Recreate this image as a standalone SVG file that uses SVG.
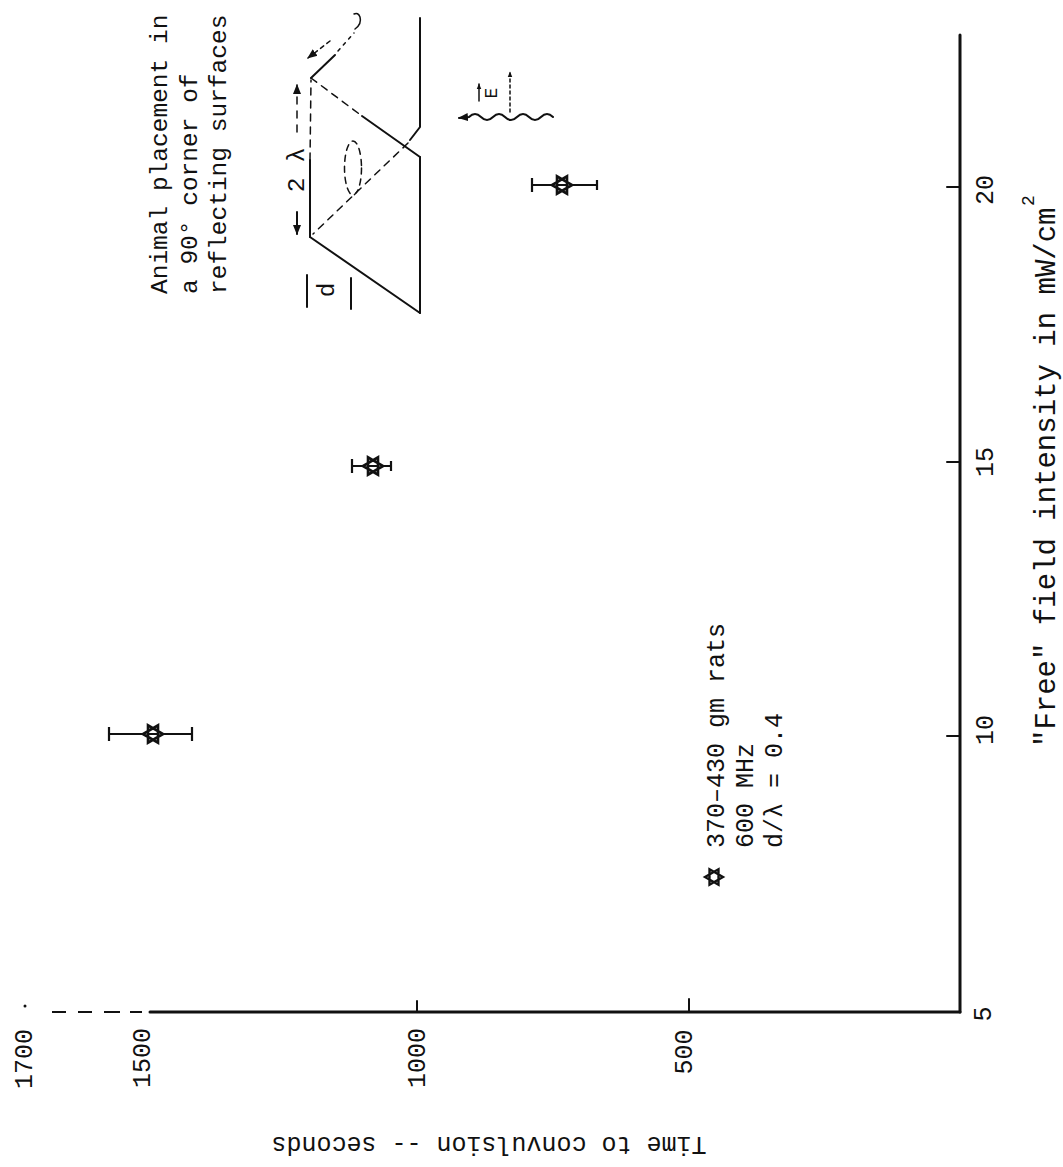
<svg xmlns="http://www.w3.org/2000/svg" width="1063" height="1167" viewBox="0 0 1063 1167">
<defs>
<style>
text { font-family: "Liberation Mono", "Courier New", monospace; fill: #111; }
.f25 { font-size: 25px; }
.f24 { font-size: 24.5px; }
.f29 { font-size: 29px; }
.ax { stroke: #111; stroke-width: 3; fill: none; stroke-linecap: round; }
.axd { stroke: #111; stroke-width: 1.8; fill: none; }
.ln { stroke: #111; stroke-width: 2; fill: none; stroke-linecap: round; }
.thin { stroke: #111; stroke-width: 1.5; fill: none; stroke-linecap: round; }
.dash { stroke-dasharray: 7 6; }
.eb { stroke: #111; stroke-width: 2.2; fill: none; }
.star { stroke: #111; stroke-width: 2.6; fill: #fff; stroke-linejoin: miter; }
</style>
<marker id="ah" viewBox="0 0 10 10" refX="9" refY="5" markerWidth="10" markerHeight="10" markerUnits="userSpaceOnUse" orient="auto"><path d="M0,1 L10,5 L0,9 z" fill="#111"/></marker>
<marker id="ahs" viewBox="0 0 10 10" refX="9" refY="5" markerWidth="6" markerHeight="6" markerUnits="userSpaceOnUse" orient="auto"><path d="M0,1 L10,5 L0,9 z" fill="#111"/></marker>
<path id="star" class="star" d="M10,0 L-5,8.66 L-5,-8.66 Z M-10,0 L5,8.66 L5,-8.66 Z"/>
</defs>
<rect width="1063" height="1167" fill="#fff"/>

<g id="axes">
  <line class="ax" x1="960" y1="35" x2="960" y2="1012"/>
  <line class="ax" x1="960" y1="1012" x2="150" y2="1012"/>
  <path class="axd" d="M142,1012 H130 M120,1012 H104 M92,1012 H78 M66,1012 H52"/>
  <circle cx="25" cy="1006" r="1.5" fill="#111"/>
  <line class="ln" x1="960" y1="187" x2="947" y2="187"/>
  <line class="ln" x1="960" y1="462" x2="947" y2="462"/>
  <line class="ln" x1="960" y1="736" x2="947" y2="736"/>
  <line class="ln" x1="417" y1="1012" x2="417" y2="1001"/>
  <line class="ln" x1="689" y1="1012" x2="689" y2="999"/>
</g>

<g id="tick-labels" class="f25">
  <text transform="translate(993,190) rotate(-90)" text-anchor="middle">20</text>
  <text transform="translate(993,462) rotate(-90)" text-anchor="middle">15</text>
  <text transform="translate(993,730) rotate(-90)" text-anchor="middle">10</text>
  <text transform="translate(991,1014) rotate(-90)" text-anchor="middle">5</text>
  <text transform="translate(32,1059) rotate(-90)" text-anchor="middle">1700</text>
  <text transform="translate(150,1058) rotate(-90)" text-anchor="middle">1500</text>
  <text transform="translate(425,1058) rotate(-90)" text-anchor="middle">1000</text>
  <text transform="translate(692,1052) rotate(-90)" text-anchor="middle">500</text>
</g>

<g id="axis-titles">
  <text class="f25" transform="translate(489,1137) rotate(180)" text-anchor="middle">Time to convulsion -- seconds</text>
  <text class="f29" transform="translate(1055,747) rotate(-90)">"Free" field intensity in mW/cm</text>
  <text transform="translate(1034,206) rotate(-90)" style="font-size:18px">2</text>
</g>

<g id="point-10">
  <line class="eb" x1="109" y1="734" x2="192" y2="734"/>
  <line class="eb" x1="109" y1="727" x2="109" y2="741"/>
  <line class="eb" x1="192" y1="727" x2="192" y2="741"/>
  <use href="#star" x="153" y="734"/>
</g>
<g id="point-15">
  <line class="eb" x1="352" y1="466" x2="391" y2="466"/>
  <line class="eb" x1="352" y1="459" x2="352" y2="473"/>
  <line class="eb" x1="391" y1="461" x2="391" y2="471"/>
  <use href="#star" x="373" y="466"/>
</g>
<g id="point-20">
  <line class="eb" x1="532" y1="185" x2="597" y2="185"/>
  <line class="eb" x1="532" y1="178" x2="532" y2="192"/>
  <line class="eb" x1="597" y1="180" x2="597" y2="190"/>
  <use href="#star" x="562" y="185"/>
</g>

<g id="legend" class="f25">
  <use href="#star" transform="translate(714,877) scale(0.9)"/>
  <text transform="translate(724,848) rotate(-90)">370–430 gm rats</text>
  <text transform="translate(753,848) rotate(-90)">600 MHz</text>
  <text transform="translate(782,848) rotate(-90)">d/λ = 0.4</text>
</g>

<g id="annotation" class="f24">
  <text transform="translate(167,294) rotate(-90)">Animal placement in</text>
  <text transform="translate(197,294) rotate(-90)">a 90° corner of</text>
  <text transform="translate(226,294) rotate(-90)">reflecting surfaces</text>
</g>

<g id="inset">
  <line class="ln" x1="310" y1="237" x2="420" y2="313"/>
  <line class="ln" x1="420" y1="157" x2="420" y2="313"/>
  <line class="ln" x1="310" y1="237" x2="310" y2="160"/>
  <line class="thin dash" x1="310" y1="160" x2="311" y2="80"/>
  <line class="thin dash" x1="311" y1="78" x2="362" y2="116"/>
  <line class="ln" x1="362" y1="116" x2="420" y2="157"/>
  <polyline class="ln" points="420,18 420,127 410,140"/>
  <line class="thin dash" x1="408" y1="143" x2="313" y2="234"/>
  <line class="ln" x1="311" y1="78" x2="335" y2="55"/>
  <line class="thin" x1="338" y1="51" x2="354" y2="33" stroke-dasharray="3 5"/>
  <path class="thin" d="M355,29 Q362,24 360,17 Q358,12 354,14"/>
  <line class="thin" x1="330" y1="41" x2="308" y2="58" stroke-dasharray="4 4" marker-end="url(#ah)"/>
  <ellipse class="thin" cx="353" cy="168" rx="8.5" ry="27" stroke-dasharray="6 5"/>
  <line class="ln" x1="297" y1="212" x2="297" y2="234" marker-end="url(#ah)"/>
  <line class="thin" x1="297" y1="132" x2="297" y2="85" stroke-dasharray="7 7" marker-end="url(#ah)"/>
  <text class="f24" transform="translate(304,185) rotate(-90)" text-anchor="middle">2</text>
  <text class="f24" transform="translate(304,155) rotate(-90)" text-anchor="middle">λ</text>
  <line class="ln" x1="307" y1="275" x2="307" y2="307"/>
  <line class="ln" x1="351" y1="278" x2="351" y2="309"/>
  <text class="f24" transform="translate(334,290) rotate(-90)" text-anchor="middle">d</text>
  <path class="ln" d="M553,117 Q547,111 541,117 T529,117 T517,117 T505,117 T493,117 T481,117 T469,117 L459,118" marker-end="url(#ah)"/>
  <line class="thin" x1="510" y1="112" x2="510" y2="72" stroke-dasharray="3 3" marker-end="url(#ahs)"/>
  <text transform="translate(497,93) rotate(-90)" text-anchor="middle" style="font-size:18px">E</text>
  <line class="thin" x1="479" y1="101" x2="479" y2="84" marker-end="url(#ahs)"/>
</g>
</svg>
